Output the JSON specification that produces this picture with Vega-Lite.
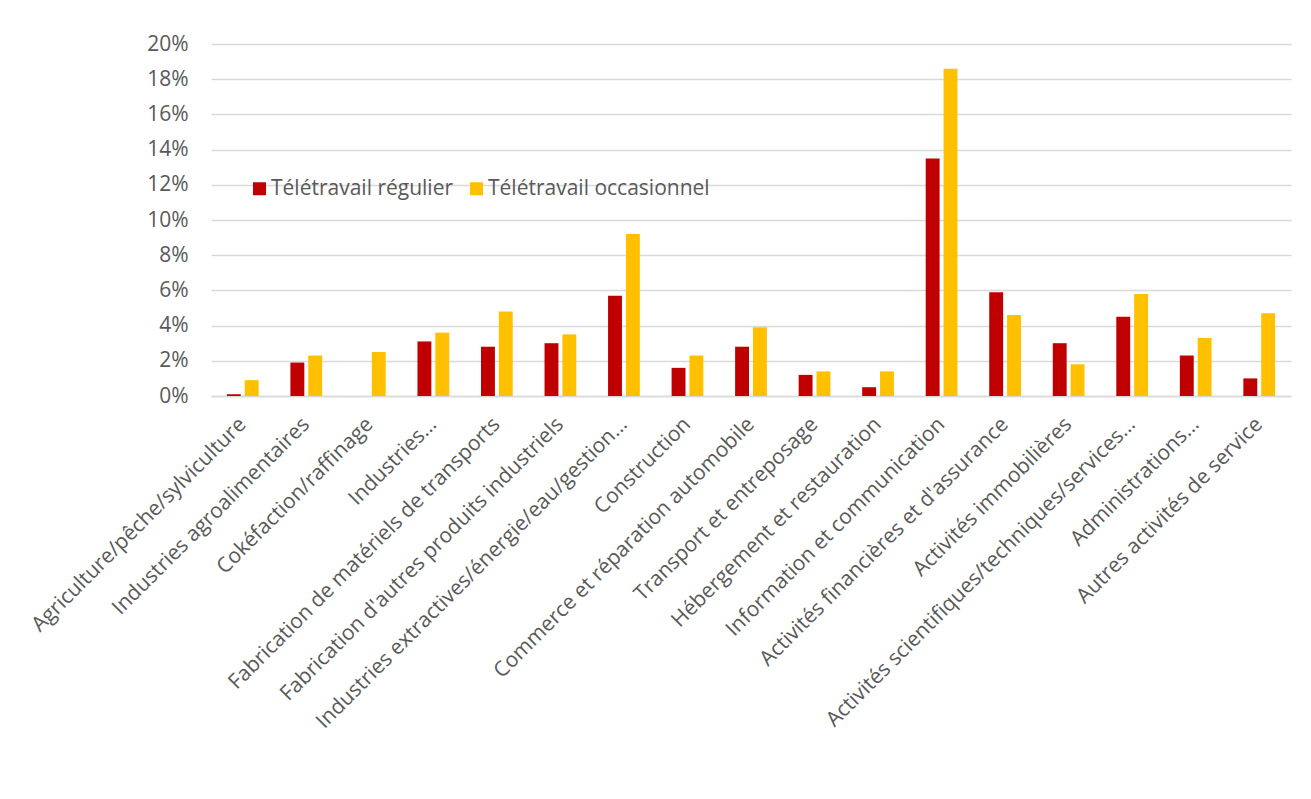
{
  "$schema": "https://vega.github.io/schema/vega-lite/v6.json",
  "width": 1080,
  "height": 352,
  "autosize": {"type": "none"},
  "padding": {"left": 211, "top": 44, "right": 20, "bottom": 403},
  "background": "white",
  "config": {"view": {"stroke": null}, "font": "Open Sans"},
  "data": {"values": [
    {"secteur": "Agriculture/pêche/sylviculture", "serie": "Télétravail régulier", "v": 0.001},
    {"secteur": "Agriculture/pêche/sylviculture", "serie": "Télétravail occasionnel", "v": 0.009},
    {"secteur": "Industries agroalimentaires", "serie": "Télétravail régulier", "v": 0.019},
    {"secteur": "Industries agroalimentaires", "serie": "Télétravail occasionnel", "v": 0.023},
    {"secteur": "Cokéfaction/raffinage", "serie": "Télétravail régulier", "v": 0},
    {"secteur": "Cokéfaction/raffinage", "serie": "Télétravail occasionnel", "v": 0.025},
    {"secteur": "Industries…", "serie": "Télétravail régulier", "v": 0.031},
    {"secteur": "Industries…", "serie": "Télétravail occasionnel", "v": 0.036},
    {"secteur": "Fabrication de matériels de transports", "serie": "Télétravail régulier", "v": 0.028},
    {"secteur": "Fabrication de matériels de transports", "serie": "Télétravail occasionnel", "v": 0.048},
    {"secteur": "Fabrication d'autres produits industriels", "serie": "Télétravail régulier", "v": 0.030},
    {"secteur": "Fabrication d'autres produits industriels", "serie": "Télétravail occasionnel", "v": 0.035},
    {"secteur": "Industries extractives/énergie/eau/gestion…", "serie": "Télétravail régulier", "v": 0.057},
    {"secteur": "Industries extractives/énergie/eau/gestion…", "serie": "Télétravail occasionnel", "v": 0.092},
    {"secteur": "Construction", "serie": "Télétravail régulier", "v": 0.016},
    {"secteur": "Construction", "serie": "Télétravail occasionnel", "v": 0.023},
    {"secteur": "Commerce et réparation automobile", "serie": "Télétravail régulier", "v": 0.028},
    {"secteur": "Commerce et réparation automobile", "serie": "Télétravail occasionnel", "v": 0.039},
    {"secteur": "Transport et entreposage", "serie": "Télétravail régulier", "v": 0.012},
    {"secteur": "Transport et entreposage", "serie": "Télétravail occasionnel", "v": 0.014},
    {"secteur": "Hébergement et restauration", "serie": "Télétravail régulier", "v": 0.005},
    {"secteur": "Hébergement et restauration", "serie": "Télétravail occasionnel", "v": 0.014},
    {"secteur": "Information et communication", "serie": "Télétravail régulier", "v": 0.135},
    {"secteur": "Information et communication", "serie": "Télétravail occasionnel", "v": 0.186},
    {"secteur": "Activités financières et d'assurance", "serie": "Télétravail régulier", "v": 0.059},
    {"secteur": "Activités financières et d'assurance", "serie": "Télétravail occasionnel", "v": 0.046},
    {"secteur": "Activités immobilières", "serie": "Télétravail régulier", "v": 0.030},
    {"secteur": "Activités immobilières", "serie": "Télétravail occasionnel", "v": 0.018},
    {"secteur": "Activités scientifiques/techniques/services…", "serie": "Télétravail régulier", "v": 0.045},
    {"secteur": "Activités scientifiques/techniques/services…", "serie": "Télétravail occasionnel", "v": 0.058},
    {"secteur": "Administrations…", "serie": "Télétravail régulier", "v": 0.023},
    {"secteur": "Administrations…", "serie": "Télétravail occasionnel", "v": 0.033},
    {"secteur": "Autres activités de service", "serie": "Télétravail régulier", "v": 0.010},
    {"secteur": "Autres activités de service", "serie": "Télétravail occasionnel", "v": 0.047}
  ]},
  "mark": {"type": "bar"},
  "encoding": {
    "x": {
      "field": "secteur", "type": "nominal", "sort": null,
      "scale": {"paddingInner": 0.5, "paddingOuter": 0.25},
      "axis": {
        "title": null, "labelAngle": -45, "labelAlign": "right", "labelBaseline": "middle",
        "labelFontSize": 21, "labelColor": "#595959", "labelPadding": 25, "labelLimit": 0,
        "ticks": false, "domainColor": "#D9D9D9", "domainWidth": 1.5, "grid": false
      }
    },
    "xOffset": {
      "field": "serie", "type": "nominal",
      "scale": {"domain": ["Télétravail régulier", "Télétravail occasionnel"], "paddingInner": 0.222, "paddingOuter": 0}
    },
    "y": {
      "field": "v", "type": "quantitative",
      "scale": {"domain": [0, 0.2], "nice": false},
      "axis": {
        "title": null, "format": ".0%", "values": [0, 0.02, 0.04, 0.06, 0.08, 0.1, 0.12, 0.14, 0.16, 0.18, 0.2],
        "labelFontSize": 21, "labelColor": "#595959", "labelPadding": 23,
        "ticks": false, "domain": false, "gridColor": "#D9D9D9", "gridWidth": 1.5
      }
    },
    "color": {
      "field": "serie", "type": "nominal",
      "scale": {"domain": ["Télétravail régulier", "Télétravail occasionnel"], "range": ["#C00000", "#FFC000"]},
      "legend": {
        "title": null, "orient": "none", "direction": "horizontal", "legendX": 38, "legendY": 134,
        "symbolType": "square", "symbolSize": 169, "symbolStrokeWidth": 0,
        "labelFontSize": 21, "labelColor": "#595959", "labelOffset": 1, "columnPadding": 12, "labelLimit": 0
      }
    }
  }
}
